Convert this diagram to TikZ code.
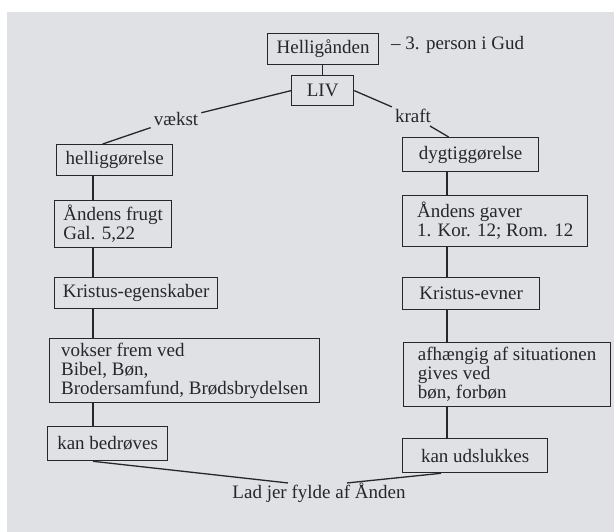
\documentclass[tikz,border=0pt]{standalone}
\usepackage{fontspec}
\setmainfont{Liberation Serif}
\definecolor{ink}{RGB}{38,38,44}
\definecolor{paper}{RGB}{224,225,228}
\begin{document}
\begin{tikzpicture}[x=1pt,y=-1pt,
  every node/.style={text=ink,font=\fontsize{19}{19}\selectfont},
  box/.style={draw=ink,line width=1.3pt,inner xsep=4pt,inner ysep=2pt,align=left,anchor=north west},
  lbl/.style={inner sep=3pt},
  conn/.style={draw=ink,line width=1.3pt}]
\useasboundingbox (0,0) rectangle (614,532);
\fill[white] (0,0) rectangle (614,532);
\fill[paper] (7,12) rectangle (614,532);
% top
\node[box,minimum width=111pt,minimum height=31pt] (helig) at (267,33) {Helligånden};
\node[anchor=west,inner sep=0pt] (person) at (391,45) {– 3. person i Gud};
\node[box,minimum width=62pt,minimum height=30pt,align=center] (liv) at (291,75) {LIV};
% left column
\node[box,minimum width=116pt,minimum height=31pt] (hellig) at (56,144) {helliggørelse};
\node[box,minimum width=117pt,minimum height=47pt] (frugt) at (54,200) {Åndens frugt\\Gal. 5,22};
\node[box,minimum width=163pt,minimum height=31pt] (egensk) at (54,277) {Kristus-egenskaber};
\node[box,minimum width=270pt,minimum height=64pt] (vokser) at (49,338) {vokser frem ved\\Bibel, Bøn,\\Brodersamfund, Brødsbrydelsen};
\node[box,minimum width=120pt,minimum height=34pt] (bedr) at (47,426) {kan bedrøves};
% right column
\node[box,minimum width=136pt,minimum height=34pt] (dygtig) at (402,137) {dygtiggørelse};
\node[box,minimum width=185pt,minimum height=51pt] (gaver) at (402,195) {Åndens gaver\\1. Kor. 12; Rom. 12};
\node[box,minimum width=137pt,minimum height=32pt] (evner) at (402,277) {Kristus-evner};
\node[box,minimum width=207pt,minimum height=64pt] (afh) at (403,342) {afhængig af situationen\\gives ved\\bøn, forbøn};
\node[box,minimum width=145pt,minimum height=34pt] (udsl) at (402,438) {kan udslukkes};
% labels
\node[lbl] (vaekst) at (176,119) {vækst};
\node[lbl] (kraft) at (413,116) {kraft};
\node[inner sep=1pt] (lad) at (319,493) {Lad jer fylde af Ånden};
\coordinate (colL) at (93,0);
\coordinate (colR) at (447,0);
\coordinate (ladL) at ([xshift=-31pt,yshift=-1pt]lad.north);
\coordinate (ladR) at ([xshift=28pt,yshift=-1pt]lad.north);
% connectors
\draw[conn] (helig.south -| liv.north) -- (liv.north);
\draw[conn] (liv.west) -- (vaekst);
\draw[conn] (vaekst) -- ([xshift=-12pt]hellig.north);
\draw[conn] (liv.east) -- (kraft);
\draw[conn] (kraft) -- ([xshift=-22pt]dygtig.north);
\draw[conn] (hellig.south -| colL) -- (frugt.north -| colL);
\draw[conn] (frugt.south -| colL) -- (egensk.north -| colL);
\draw[conn] (egensk.south -| colL) -- (vokser.north -| colL);
\draw[conn] (vokser.south -| colL) -- (bedr.north -| colL);
\draw[conn] (dygtig.south -| colR) -- (gaver.north -| colR);
\draw[conn] (gaver.south -| colR) -- (evner.north -| colR);
\draw[conn] (evner.south -| colR) -- (afh.north -| colR);
\draw[conn] (afh.south -| colR) -- (udsl.north -| colR);
\draw[conn] (bedr.south -| colL) -- (ladL);
\draw[conn] ([xshift=-6pt]udsl.south -| colR) -- (ladR);
\end{tikzpicture}
\end{document}
